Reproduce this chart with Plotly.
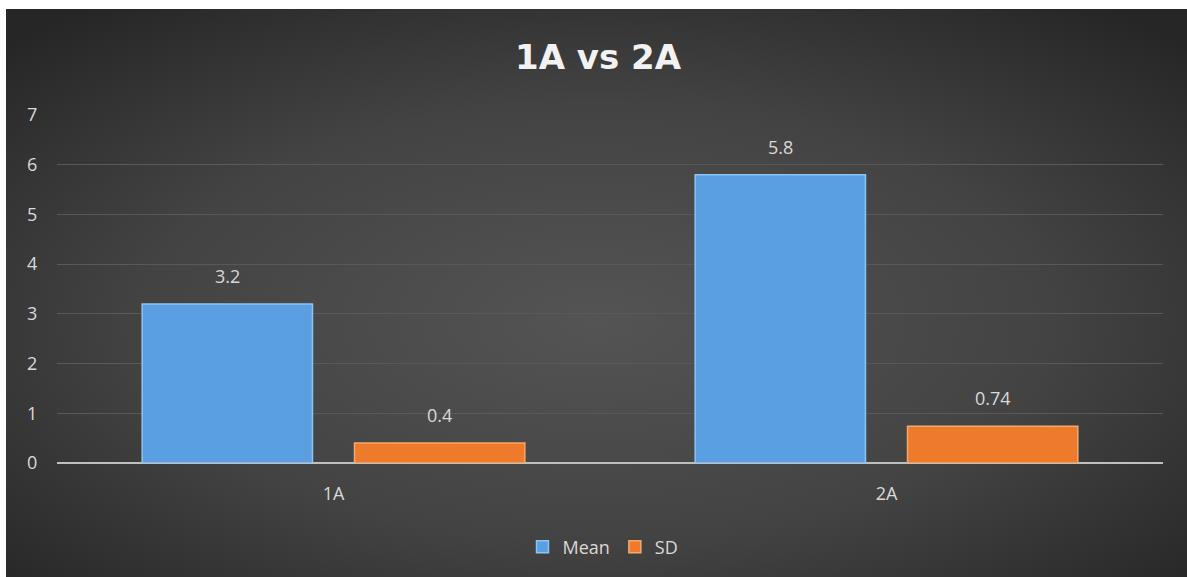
import base64
import plotly.graph_objects as go

# ---- data ----
categories = ["1A", "2A"]
mean_values = [3.2, 5.8]
sd_values = [0.4, 0.74]
mean_labels = ["3.2", "5.8"]
sd_labels = ["0.4", "0.74"]
y_ticks = [0, 1, 2, 3, 4, 5, 6, 7]

# ---- layout constants (pixels) ----
W, H = 1187, 577
L, R, T, B = 57, 24, 115, 114
plot_w = W - L - R
plot_h = H - T - B
bargap = 0.232
bargroupgap = 0.198
slot_px = plot_w / len(categories) * (1 - bargap) / 2

TXT = "#d9d9d9"
FONT = "Open Sans, Liberation Sans, sans-serif"

svg = (
    '<svg xmlns="http://www.w3.org/2000/svg" width="1181" height="568" preserveAspectRatio="none">'
    '<defs><radialGradient id="g" cx="50%" cy="55%" r="70%" fx="50%" fy="55%">'
    '<stop offset="0%" stop-color="#545454"/>'
    '<stop offset="55%" stop-color="#434343"/>'
    '<stop offset="100%" stop-color="#262626"/>'
    '</radialGradient></defs>'
    '<rect width="1181" height="568" fill="url(#g)"/></svg>'
)
bg_src = "data:image/svg+xml;base64," + base64.b64encode(svg.encode()).decode()

# background box from pixel (6,9) to (W,H) expressed in paper coords
bx0, by0 = 6, 9
img_x = (bx0 - L) / plot_w
img_y = (H - B - by0) / plot_h
img_sx = (W - bx0) / plot_w
img_sy = (H - by0) / plot_h

fig = go.Figure()
fig.add_trace(go.Bar(
    name="Mean", x=categories, y=mean_values,
    marker=dict(color="#5b9fe3", line=dict(color="#8ec3f2", width=1.5)),
))
fig.add_trace(go.Bar(
    name="SD", x=categories, y=sd_values,
    marker=dict(color="#ee7b2c", line=dict(color="#f7a86c", width=1.5)),
))

annotations = []
for cat, v, lab in zip(categories, mean_values, mean_labels):
    annotations.append(dict(x=cat, y=v, text=lab, showarrow=False, xshift=-slot_px / 2,
                            yanchor="bottom", yshift=14, font=dict(size=18, color=TXT, family=FONT)))
for cat, v, lab in zip(categories, sd_values, sd_labels):
    annotations.append(dict(x=cat, y=v, text=lab, showarrow=False, xshift=slot_px / 2,
                            yanchor="bottom", yshift=14, font=dict(size=18, color=TXT, family=FONT)))

fig.update_layout(
    width=W, height=H,
    margin=dict(l=L, r=R, t=T, b=B, pad=0),
    paper_bgcolor="white",
    plot_bgcolor="rgba(0,0,0,0)",
    barmode="group", bargap=bargap, bargroupgap=bargroupgap,
    title=dict(text="<b>1A vs 2A</b>", x=598 / W, xanchor="center", xref="container",
               y=1 - 57 / H, yanchor="middle",
               font=dict(size=34, color="#f2f2f2", family="DejaVu Sans, sans-serif")),
    xaxis=dict(showgrid=False, showline=False, zeroline=False,
               ticks="outside", ticklen=14, tickcolor="rgba(0,0,0,0)",
               tickfont=dict(size=18, color=TXT, family=FONT)),
    yaxis=dict(range=[0, 7], tickvals=y_ticks, showgrid=True, gridcolor="#595959", gridwidth=1,
               zeroline=True, zerolinecolor="#bfbfbf", zerolinewidth=2, showline=False,
               ticks="outside", ticklen=15, tickcolor="rgba(0,0,0,0)",
               tickfont=dict(size=18, color=TXT, family=FONT)),
    legend=dict(orientation="h", x=(603 - L) / plot_w, xanchor="center",
                y=(H - B - 547) / plot_h, yanchor="middle",
                font=dict(size=18, color=TXT, family=FONT), bgcolor="rgba(0,0,0,0)",
                itemwidth=30),
    annotations=annotations,
    images=[dict(source=bg_src, xref="paper", yref="paper", x=img_x, y=img_y,
                 sizex=img_sx, sizey=img_sy, xanchor="left", yanchor="top",
                 sizing="stretch", layer="below")],
    showlegend=True,
)

fig.write_html("out.html")
